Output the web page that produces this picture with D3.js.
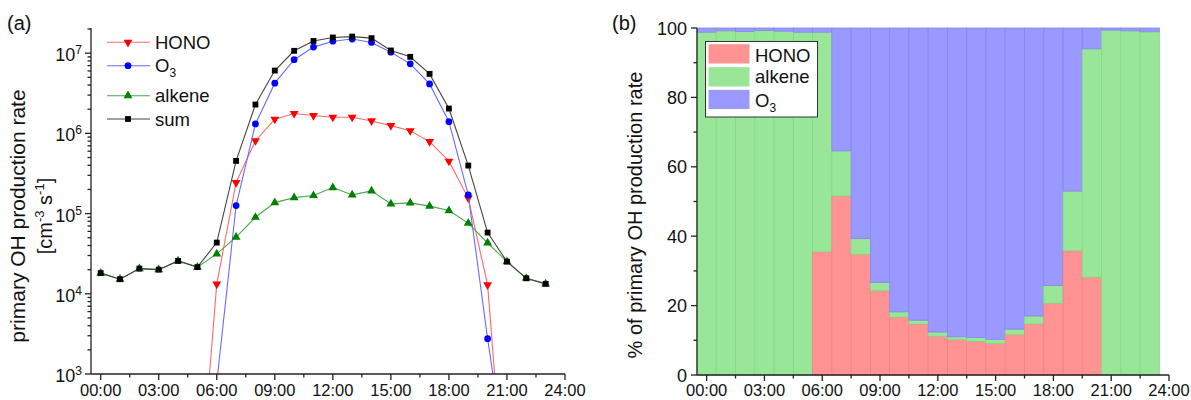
<!DOCTYPE html>
<html>
<head>
<meta charset="utf-8">
<script src="https://cdn.jsdelivr.net/npm/d3@7/dist/d3.min.js"></script>
<style>
  body { margin: 0; background: #fff; }
  svg { font-family: "Liberation Sans", Arial, sans-serif; }
</style>
</head>
<body>
<div id="chart"></div>
<script>
// hour of day for every point / bar
const hours = [0, 1, 2, 3, 4, 5, 6, 7, 8, 9, 10, 11, 12, 13, 14, 15, 16, 17, 18, 19, 20, 21, 22, 23];

// (a) primary OH production rates [cm-3 s-1], null = no value
const honoRate = [null, null, null, null, null, 14, 1.32e4, 2.44e5, 8.1e5, 1.5e6, 1.77e6, 1.67e6,
  1.59e6, 1.59e6, 1.43e6, 1.25e6, 1.08e6, 7.9e5, 4.5e5, 1.56e5, 1.29e4, 11, null, null];
const o3Rate = [null, null, null, null, null, null, 780, 1.26e5, 1.31e6, 4.23e6, 8.3e6, 1.19e7,
  1.41e7, 1.5e7, 1.36e7, 1.03e7, 7.36e6, 4.14e6, 1.4e6, 1.71e5, 2.76e3, 65, null, null];
const alkeneRate = [1.81e4, 1.52e4, 2.06e4, 2.0e4, 2.57e4, 2.15e4, 3.14e4, 5.08e4, 9.0e4, 1.37e5, 1.58e5, 1.68e5,
  2.11e5, 1.71e5, 1.92e5, 1.32e5, 1.36e5, 1.24e5, 1.09e5, 7.6e4, 4.3e4, 2.52e4, 1.56e4, 1.33e4];
const sumRate = [1.81e4, 1.52e4, 2.06e4, 2.0e4, 2.57e4, 2.15e4, 4.35e4, 4.54e5, 2.29e6, 6.07e6, 1.07e7, 1.42e7,
  1.57e7, 1.61e7, 1.54e7, 1.08e7, 9.0e6, 5.52e6, 2.04e6, 3.97e5, 5.8e4, 2.52e4, 1.56e4, 1.33e4];

// (b) share of primary OH production [%]
const honoPct = [0, 0, 0, 0, 0, 0, 35.5, 51.6, 34.8, 24.4, 16.7, 14.7,
  11.2, 10.2, 9.7, 9.1, 11.7, 14.7, 20.7, 35.8, 28.2, 0, 0, 0];
const alkenePct = [98.8, 99.2, 99.0, 99.3, 99.1, 98.8, 63.3, 13.0, 4.5, 2.3, 1.5, 1.1,
  1.2, 0.8, 1.1, 1.2, 1.5, 2.3, 5.1, 17.2, 65.8, 99.4, 99.2, 98.9];
const o3Pct = [1.2, 0.8, 1.0, 0.7, 0.9, 1.2, 1.2, 35.4, 60.7, 73.3, 81.8, 84.2,
  87.6, 89.0, 89.2, 89.7, 86.8, 83.0, 74.2, 47.0, 6.0, 0.6, 0.8, 1.1];

const xTicks = [0, 3, 6, 9, 12, 15, 18, 21, 24];
const xTickLabels = ["00:00", "03:00", "06:00", "09:00", "12:00", "15:00", "18:00", "21:00", "24:00"];
const xMinorTicks = [1.5, 4.5, 7.5, 10.5, 13.5, 16.5, 19.5, 22.5];
const yLogTicks = [1e3, 1e4, 1e5, 1e6, 1e7];
const yPctTicks = [0, 20, 40, 60, 80, 100];
const yPctMinor = [10, 30, 50, 70, 90];

const axisColor = "#222";

const svg = d3.select("#chart").append("svg")
  .attr("width", 1191)
  .attr("height", 400);

// ---------- (a) ----------
const xA = d3.scaleLinear().domain([-0.5, 24]).range([91, 565]);
const yA = d3.scaleLog().domain([1e3, 2.06e7]).range([374, 28]);

svg.append("defs").append("clipPath").attr("id", "clipA")
  .append("rect")
  .attr("x", xA.range()[0]).attr("y", yA.range()[1])
  .attr("width", xA.range()[1] - xA.range()[0])
  .attr("height", yA.range()[0] - yA.range()[1]);

const seriesA = [
  { name: "HONO", values: honoRate, line: "#ff6a6a", fill: "#ff0000", sym: "down" },
  { name: "O3", values: o3Rate, line: "#6a6aff", fill: "#0000ff", sym: "circle" },
  { name: "alkene", values: alkeneRate, line: "#4aa84a", fill: "#008000", sym: "up" },
  { name: "sum", values: sumRate, line: "#444", fill: "#000", sym: "square" },
];

const symbolPath = (s) => {
  if (s === "circle") return d3.symbol(d3.symbolCircle, 36)();
  if (s === "square") return d3.symbol(d3.symbolSquare, 34)();
  return d3.symbol(d3.symbolTriangle, 34)();
};

const plotA = svg.append("g").attr("clip-path", "url(#clipA)");

const lineA = d3.line()
  .defined((d) => d[1] != null)
  .x((d) => xA(d[0]))
  .y((d) => yA(d[1]));

seriesA.forEach((s) => {
  const pts = hours.map((h, i) => [h, s.values[i]]);
  const g = plotA.append("g");
  g.append("path")
    .attr("d", lineA(pts))
    .attr("fill", "none")
    .attr("stroke", s.line)
    .attr("stroke-width", 1.1);
  g.selectAll("path.m")
    .data(pts.filter((d) => d[1] != null))
    .enter()
    .append("path")
    .attr("class", "m")
    .attr("d", symbolPath(s.sym))
    .attr("transform", (d) => `translate(${xA(d[0])},${yA(d[1])})` + (s.sym === "down" ? " rotate(180)" : ""))
    .attr("fill", s.fill);
});

// axes (a)
const axA = svg.append("g").attr("stroke", axisColor).attr("stroke-width", 1.3);
axA.append("line").attr("x1", xA.range()[0]).attr("x2", xA.range()[1])
  .attr("y1", yA.range()[0]).attr("y2", yA.range()[0]);
axA.append("line").attr("x1", xA.range()[0]).attr("x2", xA.range()[0])
  .attr("y1", yA.range()[0]).attr("y2", yA.range()[1]);

xTicks.forEach((t) => {
  axA.append("line").attr("x1", xA(t)).attr("x2", xA(t)).attr("y1", 374).attr("y2", 380);
});
xMinorTicks.forEach((t) => {
  axA.append("line").attr("x1", xA(t)).attr("x2", xA(t)).attr("y1", 374).attr("y2", 377.5);
});
svg.append("g").selectAll("text").data(xTicks).enter().append("text")
  .attr("x", (d) => xA(d)).attr("y", 396.3)
  .attr("text-anchor", "middle").attr("font-size", 16.5).attr("fill", "#111")
  .text((d, i) => xTickLabels[i]);

yLogTicks.forEach((t) => {
  axA.append("line").attr("x1", 85).attr("x2", 91).attr("y1", yA(t)).attr("y2", yA(t));
  if (t < 1e7) {
    [2, 3, 4, 5, 6, 7, 8, 9].forEach((m) => {
      axA.append("line").attr("x1", 87.5).attr("x2", 91).attr("y1", yA(t * m)).attr("y2", yA(t * m));
    });
  } else {
    [2].forEach((m) => {
      axA.append("line").attr("x1", 87.5).attr("x2", 91).attr("y1", yA(t * m)).attr("y2", yA(t * m));
    });
  }
});
const yLab = svg.append("g").selectAll("text").data(yLogTicks).enter().append("text")
  .attr("x", 82).attr("y", (d) => yA(d) + 8)
  .attr("text-anchor", "end").attr("font-size", 18).attr("fill", "#111");
yLab.append("tspan").text("10");
yLab.append("tspan").attr("font-size", 12).attr("dy", -7).text((d) => Math.round(Math.log10(d)));

// axis title (a)
svg.append("text")
  .attr("transform", "translate(25,216) rotate(-90)")
  .attr("text-anchor", "middle").attr("font-size", 21).attr("fill", "#111")
  .text("primary OH production rate");
const unitA = svg.append("text")
  .attr("transform", "translate(52,216) rotate(-90)")
  .attr("text-anchor", "middle").attr("font-size", 20).attr("fill", "#111");
unitA.append("tspan").text("[cm");
unitA.append("tspan").attr("font-size", 13).attr("dy", -8).text("-3");
unitA.append("tspan").attr("dy", 8).text(" s");
unitA.append("tspan").attr("font-size", 13).attr("dy", -8).text("-1");
unitA.append("tspan").attr("dy", 8).text("]");

svg.append("text").attr("x", 7).attr("y", 30).attr("font-size", 20).attr("fill", "#111").text("(a)");

// legend (a)
const legA = svg.append("g");
const legRowsA = [42.3, 65.7, 95.7, 119];
seriesA.forEach((s, i) => {
  const y = legRowsA[i];
  legA.append("line").attr("x1", 107).attr("x2", 150).attr("y1", y).attr("y2", y)
    .attr("stroke", s.line).attr("stroke-width", 1.1);
  legA.append("path").attr("d", symbolPath(s.sym))
    .attr("transform", `translate(128,${y})` + (s.sym === "down" ? " rotate(180)" : ""))
    .attr("fill", s.fill);
  const t = legA.append("text").attr("x", 155).attr("y", y + 6.5)
    .attr("font-size", 18.5).attr("fill", "#111");
  if (s.name === "O3") {
    t.append("tspan").text("O");
    t.append("tspan").attr("font-size", 12).attr("dy", 5).text("3");
  } else {
    t.text(s.name);
  }
});

// ---------- (b) ----------
const xB = d3.scaleLinear().domain([-0.5, 24]).range([697, 1169]);
const yB = d3.scaleLinear().domain([0, 100]).range([375, 28]);

const stackB = [
  { key: "HONO", values: honoPct, fill: "#ff9393", stroke: "#f48080" },
  { key: "alkene", values: alkenePct, fill: "#99e699", stroke: "#85d985" },
  { key: "O3", values: o3Pct, fill: "#9999ff", stroke: "#8585f4" },
];

const barsB = svg.append("g");
hours.forEach((h, i) => {
  let base = 0;
  stackB.forEach((s) => {
    const v = s.values[i];
    if (v > 0) {
      barsB.append("rect")
        .attr("x", xB(h - 0.5))
        .attr("width", xB(h + 0.5) - xB(h - 0.5))
        .attr("y", yB(base + v))
        .attr("height", yB(base) - yB(base + v))
        .attr("fill", s.fill)
        .attr("stroke", s.stroke)
        .attr("stroke-width", 0.8);
    }
    base += v;
  });
});

const axB = svg.append("g").attr("stroke", axisColor).attr("stroke-width", 1.3);
axB.append("line").attr("x1", xB.range()[0]).attr("x2", xB.range()[1])
  .attr("y1", yB.range()[0]).attr("y2", yB.range()[0]);
axB.append("line").attr("x1", xB.range()[0]).attr("x2", xB.range()[0])
  .attr("y1", yB.range()[0]).attr("y2", yB.range()[1]);
xTicks.forEach((t) => {
  axB.append("line").attr("x1", xB(t)).attr("x2", xB(t)).attr("y1", 375).attr("y2", 381);
});
xMinorTicks.forEach((t) => {
  axB.append("line").attr("x1", xB(t)).attr("x2", xB(t)).attr("y1", 375).attr("y2", 378.5);
});
yPctTicks.forEach((t) => {
  axB.append("line").attr("x1", 691).attr("x2", 697).attr("y1", yB(t)).attr("y2", yB(t));
});
yPctMinor.forEach((t) => {
  axB.append("line").attr("x1", 693.5).attr("x2", 697).attr("y1", yB(t)).attr("y2", yB(t));
});
svg.append("g").selectAll("text").data(xTicks).enter().append("text")
  .attr("x", (d) => xB(d)).attr("y", 396.3)
  .attr("text-anchor", "middle").attr("font-size", 16.5).attr("fill", "#111")
  .text((d, i) => xTickLabels[i]);
svg.append("g").selectAll("text").data(yPctTicks).enter().append("text")
  .attr("x", 687).attr("y", (d) => yB(d) + 6.5)
  .attr("text-anchor", "end").attr("font-size", 18).attr("fill", "#111")
  .text((d) => d);

svg.append("text")
  .attr("transform", "translate(642,215) rotate(-90)")
  .attr("text-anchor", "middle").attr("font-size", 20).attr("fill", "#111")
  .text("% of primary OH production rate");

svg.append("text").attr("x", 612).attr("y", 30).attr("font-size", 20).attr("fill", "#111").text("(b)");

// legend (b)
const legB = svg.append("g");
legB.append("rect").attr("x", 705.5).attr("y", 41.5).attr("width", 112).attr("height", 75.5)
  .attr("fill", "#fff").attr("stroke", "#333").attr("stroke-width", 1);
const legRowsB = [43.7, 66.7, 89.3];
const legBaseB = [61.5, 83, 106.5];
stackB.forEach((s, i) => {
  legB.append("rect").attr("x", 708).attr("y", legRowsB[i]).attr("width", 42).attr("height", 20.3)
    .attr("fill", s.fill).attr("stroke", "#fff").attr("stroke-width", 1);
  const t = legB.append("text").attr("x", 755).attr("y", legBaseB[i])
    .attr("font-size", 18.5).attr("fill", "#111");
  if (s.key === "O3") {
    t.append("tspan").text("O");
    t.append("tspan").attr("font-size", 12).attr("dy", 5).text("3");
  } else {
    t.text(s.key);
  }
});
</script>
</body>
</html>
